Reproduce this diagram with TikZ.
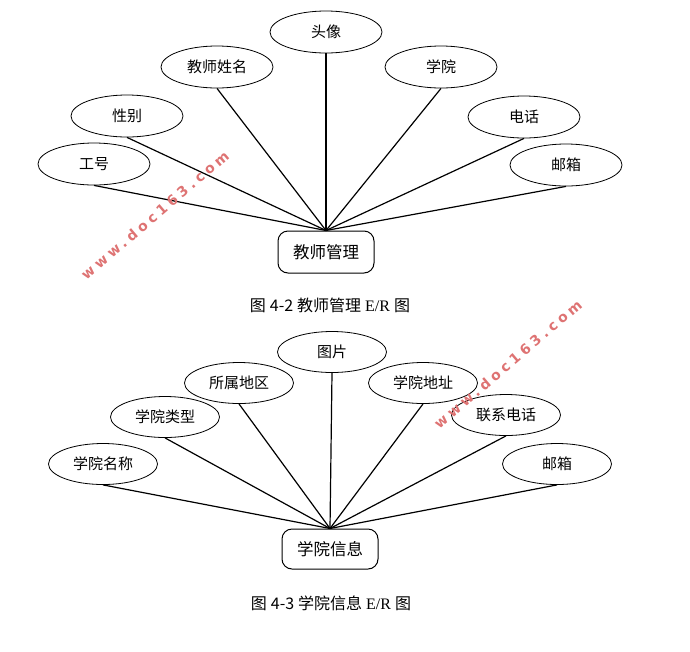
\documentclass[tikz,border=0pt]{standalone}
\usepackage{fontspec}
\setmainfont{Liberation Serif}
\newfontfamily\cjk{Noto Sans CJK SC}
\newfontfamily\wmfont[LetterSpace=28]{DejaVu Sans}
\usetikzlibrary{shapes.geometric}
\definecolor{wmred}{RGB}{222,115,115}

\begin{document}
\begin{tikzpicture}[x=1pt,y=-1pt,
    attr/.style={draw,ellipse,line width=0.8pt,minimum width=112pt,minimum height=42pt,inner sep=0pt,font=\cjk\fontsize{15}{15}\selectfont},
    attrb/.style={attr,minimum width=109pt,minimum height=41pt},
    entity/.style={draw,rounded corners=10pt,line width=1pt,minimum width=96pt,minimum height=42pt,inner sep=0pt,font=\cjk\fontsize{16.5}{16.5}\selectfont},
    link/.style={line width=1.2pt},
    caption/.style={inner sep=0pt,font=\fontsize{16}{16}\selectfont},
    wm/.style={text=wmred,inner sep=0pt,rotate=40.5,font=\wmfont\bfseries\fontsize{14}{14}\selectfont}]
        \useasboundingbox (0,0) rectangle (690,651);

        % teacher E/R
        \node[attr] (touxiang) at (326,32) {头像};
        \node[attr] (xingming) at (217,67) {教师姓名};
        \node[attr] (xingbie) at (127,116) {性别};
        \node[attr] (gonghao) at (94,164) {工号};
        \node[attr] (xueyuan) at (441,67) {学院};
        \node[attr] (dianhua) at (524,117) {电话};
        \node[attr] (youxiang) at (566,165) {邮箱};
        \node[entity] (jiaoshi) at (326,252) {教师管理};

        \foreach \a in {gonghao,xingbie,xingming,touxiang,xueyuan,dianhua,youxiang}{
            \draw[link] (\a.south) -- (jiaoshi.north);
        }

        \node[caption] (capa) at (330,305) {{\cjk 图} {\cjk 4-2} {\cjk 教师管理} E/R {\cjk 图}};

        % college E/R
        \node[attrb] (tupian) at (332,352) {图片};
        \node[attrb] (suoshu) at (239,383) {所属地区};
        \node[attrb] (leixing) at (165,417) {学院类型};
        \node[attrb] (mingcheng) at (103,464) {学院名称};
        \node[attrb] (dizhi) at (423,383) {学院地址};
        \node[attrb] (lianxi) at (506,415) {联系电话};
        \node[attrb] (youxiangb) at (557,464) {邮箱};
        \node[entity,minimum height=40pt] (xinxi) at (330,549) {学院信息};

        \foreach \a in {mingcheng,leixing,suoshu,tupian,dizhi,lianxi,youxiangb}{
            \draw[link] (\a.south) -- (xinxi.north);
        }

        \node[caption] (capb) at (331,603) {{\cjk 图} {\cjk 4-3} {\cjk 学院信息} E/R {\cjk 图}};

        % watermarks
        \node[wm] (wma) at (155,215) {www.doc163.com};
        \node[wm] (wmb) at (508,364) {www.doc163.com};
\end{tikzpicture}
\end{document}
